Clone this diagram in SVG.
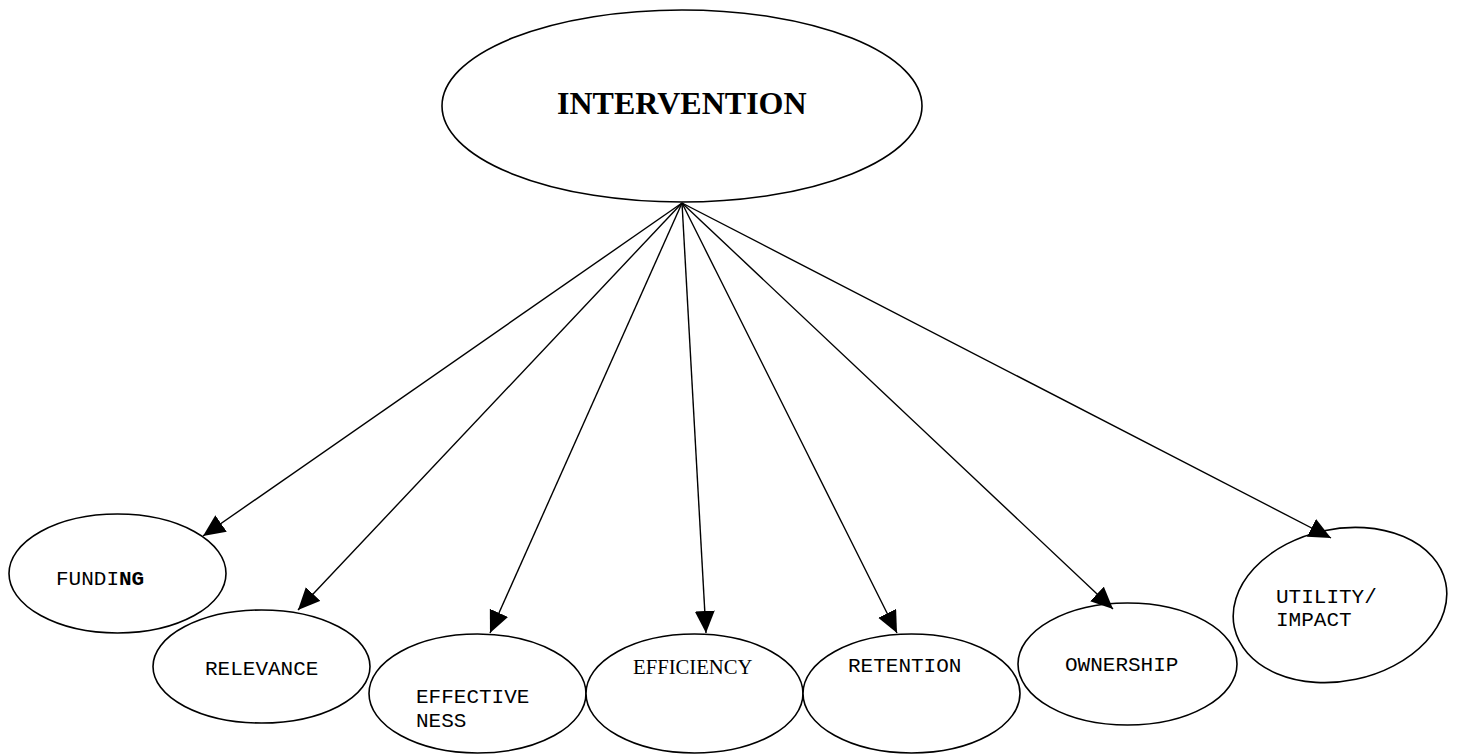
<svg xmlns="http://www.w3.org/2000/svg" width="1457" height="755" viewBox="0 0 1457 755">
<style>
.node{fill:#fff;stroke:#000;stroke-width:1.6}
.mono{font-family:"Liberation Mono","Courier New",monospace;font-size:21px;fill:#000}
.serif{font-family:"Liberation Serif","Times New Roman",serif;fill:#000}
.edge{stroke:#000;stroke-width:1.4;fill:none}
</style>
<defs>
<marker id="ah" markerUnits="userSpaceOnUse" markerWidth="24" markerHeight="22" refX="22" refY="10" orient="auto">
<path d="M0,0 L22,10 L0,20 z" fill="#000"/>
</marker>
</defs>
<g id="intervention">
<ellipse class="node" cx="682" cy="106" rx="240" ry="96"/>
<text class="serif" x="557" y="114" font-size="32" font-weight="bold">INTERVENTION</text>
</g>
<g id="funding">
<ellipse class="node" cx="117.5" cy="573.5" rx="108.5" ry="59.5"/>
<text class="mono" x="56" y="585">FUNDI<tspan font-weight="bold">NG</tspan></text>
</g>
<g id="relevance">
<ellipse class="node" cx="261.5" cy="666.5" rx="108.5" ry="56.5"/>
<text class="mono" x="205" y="675">RELEVANCE</text>
</g>
<g id="effectiveness">
<ellipse class="node" cx="477.5" cy="693.5" rx="108.5" ry="59.5"/>
<text class="mono" x="416" y="703">EFFECTIVE</text>
<text class="mono" x="416" y="727">NESS</text>
</g>
<g id="efficiency">
<ellipse class="node" cx="694.5" cy="693.5" rx="108.5" ry="59.5"/>
<text class="serif" x="633" y="674" font-size="20.7">EFFICIENCY</text>
</g>
<g id="retention">
<ellipse class="node" cx="911.5" cy="693.5" rx="108.5" ry="59.5"/>
<text class="mono" x="848" y="672">RETENTION</text>
</g>
<g id="ownership">
<ellipse class="node" cx="1127.5" cy="664" rx="109.5" ry="61"/>
<text class="mono" x="1065" y="671">OWNERSHIP</text>
</g>
<g id="utility">
<ellipse class="node" cx="1340" cy="605" rx="108" ry="76" transform="rotate(-12 1340 605)"/>
<text class="mono" x="1276" y="603">UTILITY/</text>
<text class="mono" x="1276" y="626">IMPACT</text>
</g>
<g id="connectors">
<line class="edge" x1="682" y1="203" x2="203" y2="536" marker-end="url(#ah)"/>
<line class="edge" x1="682" y1="203" x2="298" y2="610" marker-end="url(#ah)"/>
<line class="edge" x1="682" y1="203" x2="490" y2="633" marker-end="url(#ah)"/>
<line class="edge" x1="682" y1="203" x2="706" y2="633" marker-end="url(#ah)"/>
<line class="edge" x1="682" y1="203" x2="897" y2="633" marker-end="url(#ah)"/>
<line class="edge" x1="682" y1="203" x2="1113" y2="609" marker-end="url(#ah)"/>
<line class="edge" x1="682" y1="203" x2="1331" y2="538" marker-end="url(#ah)"/>
</g>
</svg>
